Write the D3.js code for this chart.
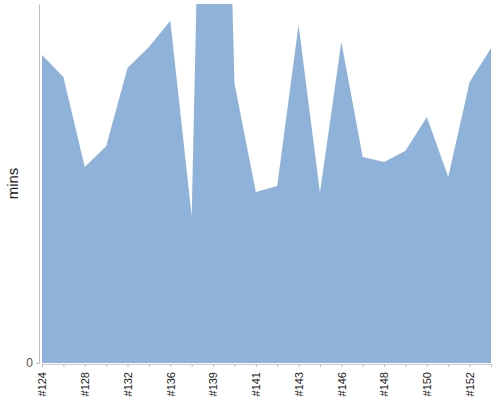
<!DOCTYPE html>
<html>
<head>
<meta charset="utf-8">
<title>Area chart</title>
<script src="https://d3js.org/d3.v7.min.js"></script>
<style>
  body { margin: 0; background: #fff; }
  text { font-family: "Liberation Sans", Arial, sans-serif; }
</style>
</head>
<body>
<script>
// build ids along the x axis
const builds = ["#124", "#126", "#128", "#130", "#132", "#134", "#136", "#137", "#139", "#140", "#141",
                "#142", "#143", "#145", "#146", "#147", "#148", "#149", "#150", "#151", "#152", "#153"];
// duration in mins per build
const mins = [85.8, 79.7, 54.6, 60.4, 82.2, 88.0, 95.3, 40.9, 310, 78.0, 47.6,
              49.3, 94.2, 47.4, 89.4, 57.4, 56.0, 59.1, 68.5, 51.8, 78.3, 87.7];
const yTicks = [0];

const w = 500, h = 400;
const margin = {top: 4, right: 9, bottom: 37, left: 42};

const svg = d3.select("body").append("svg")
  .attr("width", w)
  .attr("height", h);

const x = d3.scalePoint()
  .domain(builds)
  .range([margin.left, w - margin.right]);

const y = d3.scaleLinear()
  .domain([0, 100])
  .range([h - margin.bottom, margin.top]);

svg.append("clipPath")
  .attr("id", "clip")
  .append("rect")
  .attr("x", margin.left)
  .attr("y", margin.top)
  .attr("width", w - margin.left - margin.right)
  .attr("height", h - margin.top - margin.bottom);

const area = d3.area()
  .x((d, i) => x(builds[i]))
  .y0(y(0))
  .y1(d => y(d));

svg.append("path")
  .datum(mins)
  .attr("clip-path", "url(#clip)")
  .attr("fill", "#8fb2da")
  .attr("d", area);

// x axis: tick on every build, label on every other one
const xAxis = d3.axisBottom(x)
  .tickValues(builds)
  .tickSize(3)
  .tickFormat((d, i) => i % 2 === 0 ? d : "");

const gx = svg.append("g")
  .attr("transform", `translate(0, ${h - margin.bottom + 1})`)
  .call(xAxis);
gx.select(".domain").attr("stroke", "#ccc");
gx.selectAll(".tick line").attr("stroke", "#bbb");
gx.selectAll(".tick text")
  .attr("fill", "#222")
  .attr("font-size", 11)
  .attr("transform", "rotate(-90)")
  .attr("text-anchor", "end")
  .attr("x", -8)
  .attr("y", 0)
  .attr("dy", "0.35em");

const yAxis = d3.axisLeft(y)
  .tickValues(yTicks)
  .tickSize(3)
  .tickSizeOuter(0);

const gy = svg.append("g")
  .attr("transform", `translate(${margin.left - 3}, 0)`)
  .call(yAxis);
gy.select(".domain").attr("stroke", "#bbb");
gy.selectAll(".tick line").attr("stroke", "#bbb");
gy.selectAll(".tick text")
  .attr("fill", "#555")
  .attr("font-size", 12);

svg.append("text")
  .attr("transform", `translate(18, ${(margin.top + h - margin.bottom) / 2}) rotate(-90)`)
  .attr("text-anchor", "middle")
  .attr("font-size", 15)
  .attr("fill", "#222")
  .text("mins");
</script>
</body>
</html>
